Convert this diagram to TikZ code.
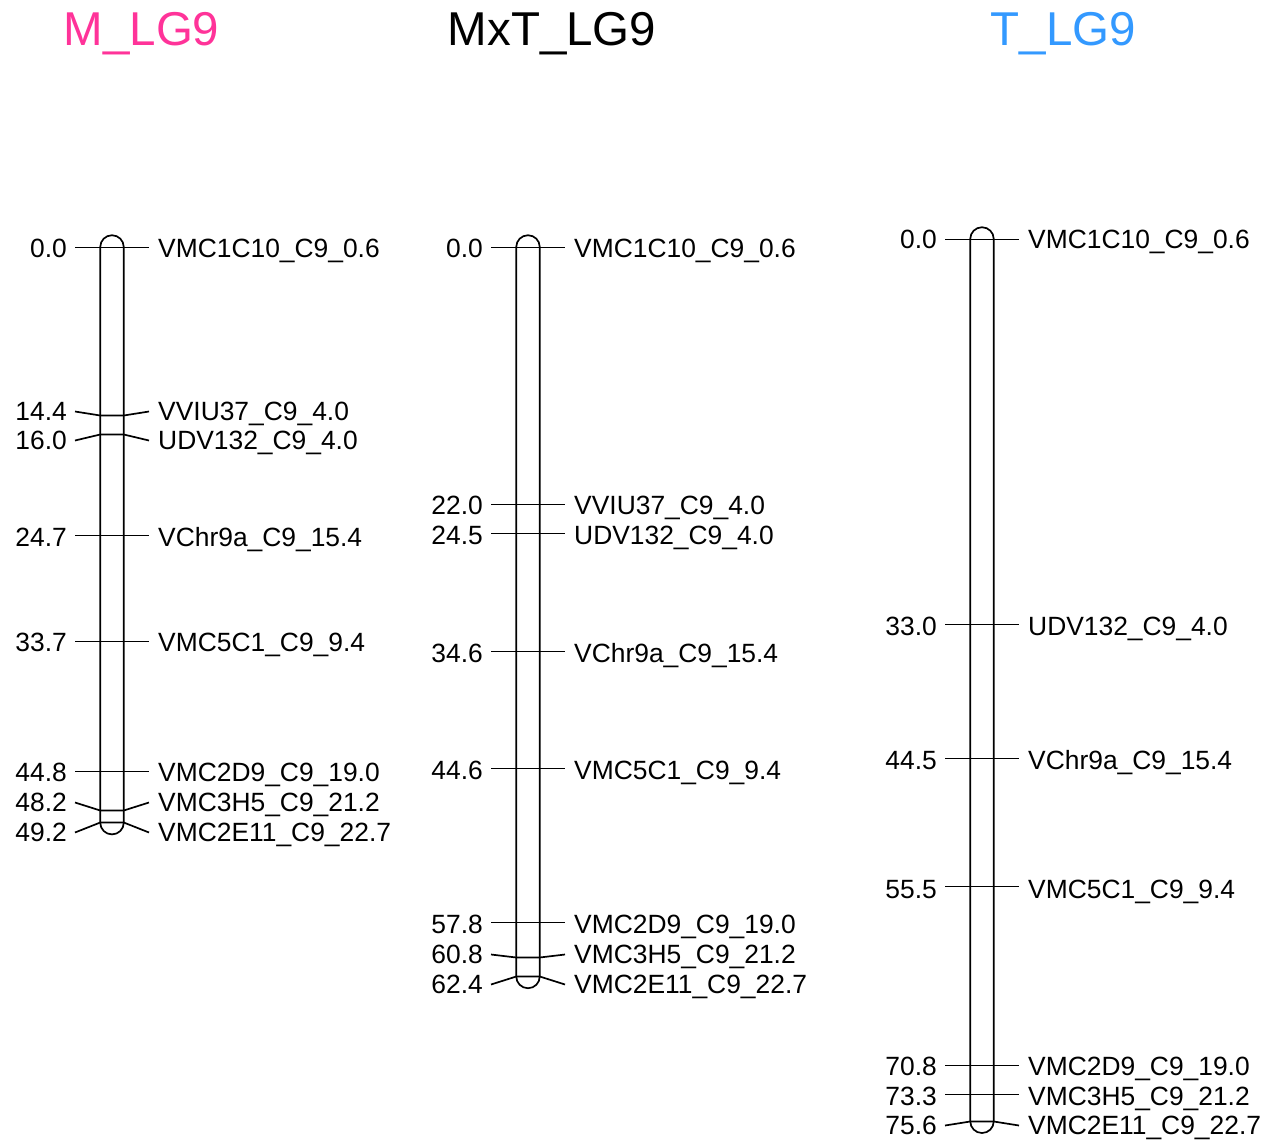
\documentclass[tikz,border=0pt]{standalone}
\usepackage{fontspec}
\setmainfont{Liberation Sans}
\definecolor{mpink}{HTML}{FF3399}
\definecolor{tblue}{HTML}{3399FF}
\tikzset{
  lbl/.style={font=\fontsize{26.4}{30}\selectfont, inner sep=0pt},
  ttl/.style={font=\fontsize{47.5}{55}\selectfont, inner sep=0pt, anchor=base},
  tickline/.style={line width=1.7pt},
  chrom/.style={line width=1.7pt, rounded corners=11.7pt}
}
% #1 id, #2 centre x, #3 y of 0 cM, #4 px per cM, #5 last position, #6 list pos/labely/name
\newcommand\lgmap[6]{%
  \pgfmathsetmacro\ybot{#3+#5*#4}
  \draw[chrom] (#2-11.75,#3-11.75) rectangle (#2+11.75,\ybot+11.75);
  \foreach \p/\ly/\nm [count=\i] in {#6} {
    \pgfmathsetmacro\yl{floor(#3+\p*#4)+0.5}
    \pgfmathsetmacro\ye{abs(\ly-\yl)<3 ? \yl : \ly+0.5}
    \node[lbl, anchor=base east] (#1p\i) at (#2-45,\ly+9.5) {\p};
    \node[lbl, anchor=base west] (#1n\i) at (#2+46,\ly+9.5) {\nm};
    \coordinate (#1a\i) at (#2-37,\ye);
    \coordinate (#1b\i) at (#2-11.75,\yl);
    \coordinate (#1c\i) at (#2+11.75,\yl);
    \coordinate (#1d\i) at (#2+37,\ye);
    \draw[tickline] (#1a\i) -- (#1b\i) -- (#1c\i) -- (#1d\i);
  }
}
\begin{document}
\begin{tikzpicture}[x=1pt,y=-1pt]
\useasboundingbox (0,0) rectangle (1270,1141);
\node[ttl, text=mpink] (t1) at (141.5,45) {M\_LG9};
\node[ttl] (t2) at (552,45) {MxT\_LG9};
\node[ttl, text=tblue] (t3) at (1063.5,45) {T\_LG9};

\lgmap{m}{112}{247}{11.70}{49.2}{0.0/248/VMC1C10\_C9\_0.6, 14.4/411/VVIU37\_C9\_4.0, 16.0/440/UDV132\_C9\_4.0, 24.7/537/VChr9a\_C9\_15.4, 33.7/642/VMC5C1\_C9\_9.4, 44.8/772/VMC2D9\_C9\_19.0, 48.2/802/VMC3H5\_C9\_21.2, 49.2/832/VMC2E11\_C9\_22.7}

\lgmap{x}{528}{247}{11.69}{62.4}{0.0/248/VMC1C10\_C9\_0.6, 22.0/505/VVIU37\_C9\_4.0, 24.5/535/UDV132\_C9\_4.0, 34.6/653/VChr9a\_C9\_15.4, 44.6/770/VMC5C1\_C9\_9.4, 57.8/924/VMC2D9\_C9\_19.0, 60.8/954/VMC3H5\_C9\_21.2, 62.4/984/VMC2E11\_C9\_22.7}

\lgmap{t}{982}{239}{11.67}{75.6}{0.0/239/VMC1C10\_C9\_0.6, 33.0/626/UDV132\_C9\_4.0, 44.5/760/VChr9a\_C9\_15.4, 55.5/889/VMC5C1\_C9\_9.4, 70.8/1066/VMC2D9\_C9\_19.0, 73.3/1096/VMC3H5\_C9\_21.2, 75.6/1125/VMC2E11\_C9\_22.7}
\end{tikzpicture}
\end{document}
